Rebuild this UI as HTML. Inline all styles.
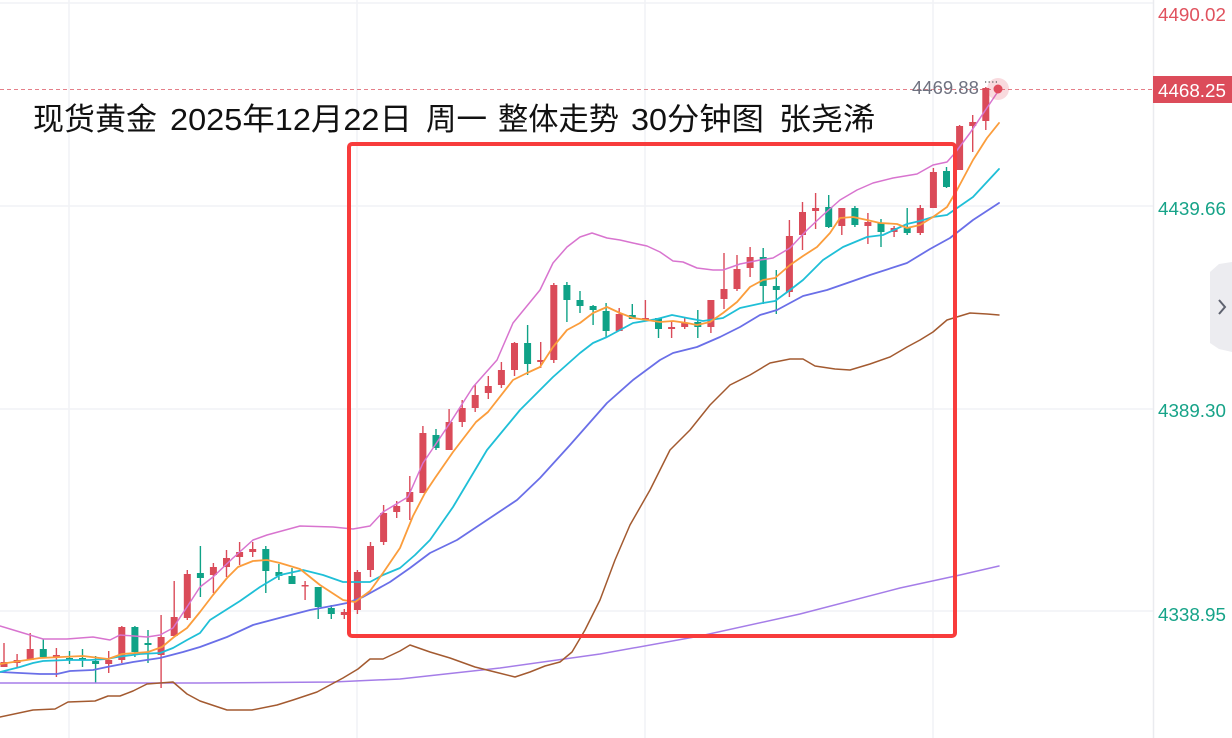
<!DOCTYPE html>
<html><head><meta charset="utf-8"><style>
html,body{margin:0;padding:0;background:#fff;}
svg{display:block;}
</style></head><body>
<svg width="1232" height="738" viewBox="0 0 1232 738" xmlns="http://www.w3.org/2000/svg">
<rect x="0" y="0" width="1232" height="738" fill="#fff"/>
<g stroke="#f1f2f5" stroke-width="1.5">
<path d="M69 0V738M357 0V738M645 0V738M933 0V738"/>
<path d="M0 3H1153M0 206H1153M0 409H1153M0 611H1153"/>
</g>
<path d="M1153.5 0V738" stroke="#eaebef" stroke-width="1.5"/>
<path d="M0 89.5H1153" stroke="#e57f89" stroke-width="1" stroke-dasharray="4 3"/>

<g stroke="#da4b59" stroke-width="1.4" fill="none">
<path d="M4 643V667M17.1 654V668M30.2 633V660M56.4 648V677M108.7 651V673M121.8 626V663M161.1 615V688M174.2 581V636M187.3 570V620M213.4 563V593M226.5 550V577M239.6 542V565M252.7 542V557M305.1 581V600M344.3 609V619M357.4 570V614M370.5 542V577M383.6 505V545M396.7 501V518M409.8 476V520M422.9 426V493M449.1 409V450M462.2 400V427M475.2 385V412M488.3 376V399M501.4 362V388M514.5 342V376M540.7 342V368M553.8 283V363M619.2 308V331M645.4 300V320M671.6 322V338M684.7 317V329M710.9 300V333M724 253V309M737 255V291M750.1 247V277M789.4 220V297M802.5 202V250M815.6 193V229M841.8 208V235M867.9 213V244M894.1 226V237M920.3 205V235M933.4 168V208M959.6 125V170M972.7 115V152M985.8 87V130"/>
</g>
<g fill="#da4b59">
<rect x="0.5" y="662" width="7" height="5"/>
<rect x="13.6" y="660" width="7" height="3"/>
<rect x="26.7" y="649" width="7" height="11"/>
<rect x="52.9" y="655" width="7" height="2"/>
<rect x="105.2" y="660" width="7" height="4"/>
<rect x="118.3" y="627" width="7" height="33"/>
<rect x="157.6" y="637" width="7" height="18"/>
<rect x="170.7" y="617" width="7" height="19"/>
<rect x="183.8" y="574" width="7" height="44"/>
<rect x="209.9" y="567" width="7" height="8"/>
<rect x="223" y="558" width="7" height="9"/>
<rect x="236.1" y="552" width="7" height="5"/>
<rect x="249.2" y="549" width="7" height="3"/>
<rect x="301.6" y="585" width="7" height="1.5"/>
<rect x="340.8" y="612" width="7" height="3"/>
<rect x="353.9" y="572" width="7" height="38"/>
<rect x="367" y="546" width="7" height="24"/>
<rect x="380.1" y="513" width="7" height="29"/>
<rect x="393.2" y="506" width="7" height="6"/>
<rect x="406.3" y="492" width="7" height="10"/>
<rect x="419.4" y="433" width="7" height="60"/>
<rect x="445.6" y="422" width="7" height="28"/>
<rect x="458.7" y="408" width="7" height="14"/>
<rect x="471.7" y="395" width="7" height="13"/>
<rect x="484.8" y="386" width="7" height="7"/>
<rect x="497.9" y="370" width="7" height="15"/>
<rect x="511" y="343" width="7" height="27"/>
<rect x="537.2" y="360" width="7" height="2"/>
<rect x="550.3" y="285" width="7" height="75"/>
<rect x="615.7" y="314" width="7" height="17"/>
<rect x="641.9" y="318" width="7" height="2"/>
<rect x="668.1" y="327" width="7" height="2"/>
<rect x="681.2" y="323" width="7" height="4"/>
<rect x="707.4" y="300" width="7" height="27"/>
<rect x="720.5" y="289" width="7" height="10"/>
<rect x="733.5" y="269" width="7" height="20"/>
<rect x="746.6" y="257" width="7" height="11"/>
<rect x="785.9" y="236" width="7" height="56"/>
<rect x="799" y="212" width="7" height="23"/>
<rect x="812.1" y="208" width="7" height="3"/>
<rect x="838.3" y="208" width="7" height="18"/>
<rect x="864.4" y="222" width="7" height="4"/>
<rect x="890.6" y="228" width="7" height="4"/>
<rect x="916.8" y="208" width="7" height="25"/>
<rect x="929.9" y="172" width="7" height="36"/>
<rect x="956.1" y="126" width="7" height="44"/>
<rect x="969.2" y="122" width="7" height="4"/>
<rect x="982.3" y="88" width="7" height="33"/>
</g>
<g stroke="#0fa287" stroke-width="1.4" fill="none">
<path d="M43.3 639V658M69.5 651V664M82.5 649V667M95.6 656V683M134.9 626V657M148 630V663M200.4 546V597M265.8 546V593M278.9 564V580M292 568V584M318.2 587V619M331.3 605V619M436 429V450M527.6 325V375M566.9 282V322M580 291V313M593.1 305V325M606.1 303V338M632.3 304V319M658.5 318V338M697.8 310V338M763.2 248V304M776.3 270V314M828.7 195V228M854.9 206V227M881 219V247M907.2 208V235M946.5 167V188"/>
</g>
<g fill="#0fa287">
<rect x="39.8" y="649" width="7" height="8"/>
<rect x="66" y="658" width="7" height="2"/>
<rect x="79" y="658" width="7" height="2"/>
<rect x="92.1" y="661" width="7" height="3"/>
<rect x="131.4" y="627" width="7" height="25"/>
<rect x="144.5" y="643" width="7" height="2"/>
<rect x="196.9" y="573" width="7" height="5"/>
<rect x="262.3" y="549" width="7" height="22"/>
<rect x="275.4" y="572" width="7" height="4"/>
<rect x="288.5" y="576" width="7" height="8"/>
<rect x="314.7" y="587" width="7" height="20"/>
<rect x="327.8" y="608" width="7" height="6"/>
<rect x="432.5" y="435" width="7" height="13"/>
<rect x="524.1" y="343" width="7" height="21"/>
<rect x="563.4" y="285" width="7" height="15"/>
<rect x="576.5" y="300" width="7" height="6"/>
<rect x="589.6" y="306" width="7" height="4"/>
<rect x="602.6" y="311" width="7" height="20"/>
<rect x="628.8" y="315" width="7" height="4"/>
<rect x="655" y="318" width="7" height="11"/>
<rect x="694.3" y="322" width="7" height="5"/>
<rect x="759.7" y="257" width="7" height="29"/>
<rect x="772.8" y="286" width="7" height="4"/>
<rect x="825.2" y="207" width="7" height="20"/>
<rect x="851.4" y="208" width="7" height="17"/>
<rect x="877.5" y="223" width="7" height="9"/>
<rect x="903.7" y="228" width="7" height="5"/>
<rect x="943" y="171" width="7" height="16"/>
</g>

<g fill="none" stroke-linejoin="round" stroke-linecap="round">
<polyline stroke="#a57de8" stroke-width="1.5" points="0,683 200,683 333,682 400,679 500,668 600,654 700,636 800,614 900,588 960,575 999,566"/>
<polyline stroke="#a35a30" stroke-width="1.5" points="0,717 33,710 55,709 68,702 95,701 108,696 120,696 133,691 147,684 160,683 173,682 187,694 200,701 227,710 252,710 277,705 293,700 317,692 343,678 358,669 370,659 383,659 400,651 410,645 430,652 450,658 475,667 495,672 515,677 530,672 545,666 560,662 572,652 585,630 600,600 615,560 630,525 650,490 670,450 690,430 710,405 730,385 750,375 770,363 790,359 803,359 815,366 835,369 850,370 870,364 890,357 907,347 920,340 933,332 947,320 970,313 987,314 999,315"/>
<polyline stroke="#6a6fe8" stroke-width="1.8" points="0,672 20,673 40,674 57,674 70,671 93,670 107,667 133,662 160,658 183,652 200,647 227,637 253,625 283,617 310,610 337,605 347,603 363,597 390,582 410,568 430,553 457,540 490,518 517,500 540,478 570,445 607,403 633,380 660,360 673,353 697,347 720,337 740,327 760,315 777,310 803,296 827,290 853,281 870,275 907,263 930,249 950,238 973,220 999,203"/>
<polyline stroke="#1fbfd7" stroke-width="1.8" points="0,672 20,667 33,663 43,661 67,660 90,660 107,659 117,657 140,654 160,653 173,648 187,640 200,633 210,620 240,601 260,587 280,575 303,570 323,575 343,582 357,582 370,582 383,575 400,568 415,555 430,540 453,507 487,450 520,410 553,377 580,353 593,343 607,337 633,323 657,319 672,315 687,318 703,321 723,318 740,308 763,303 775,301 790,290 803,280 823,260 843,247 867,237 883,235 907,224 920,221 933,217 947,215 973,197 999,169"/>
<polyline stroke="#d874cf" stroke-width="1.5" points="0,626 20,632 43,639 67,639 93,637 110,640 120,635 147,637 160,635 173,628 187,607 200,587 213,577 233,558 253,540 267,535 300,526 333,527 353,529 370,526 383,512 408,497 423,463 450,423 473,387 497,360 513,323 540,290 553,263 567,247 580,237 592,233 607,238 620,240 633,243 647,246 660,252 673,261 683,262 697,268 713,270 723,270 740,264 760,260 773,258 790,248 807,230 823,215 840,200 857,190 873,183 893,178 917,174 933,165 947,162 955,153 970,133 999,90"/>
<polyline stroke="#fb9d3c" stroke-width="1.8" points="0,664 40,658 83,656 108,659 122,654 148,652 162,647 174,637 187,628 200,612 213,595 227,578 238,567 253,561 267,560 280,563 300,569 320,585 343,600 355,602 370,591 383,573 400,548 413,516 425,493 435,478 453,452 476,422 488,412 513,380 527,373 540,367 553,347 567,330 580,323 593,313 607,307 620,313 633,318 647,320 660,322 673,321 687,323 697,325 710,322 723,313 737,302 750,287 763,280 775,278 790,265 803,256 817,247 830,233 840,218 853,217 867,220 880,223 897,224 907,228 920,225 933,217 947,207 957,190 973,160 987,138 999,123"/>
</g>

<circle cx="998" cy="89" r="11" fill="#e5586a" fill-opacity="0.22"/>
<circle cx="998" cy="89" r="4.5" fill="#e04c5c"/>
<text x="912" y="94" font-family="Liberation Sans, sans-serif" font-size="18.5" fill="#6f7280">4469.88</text>
<path d="M985 82H999" stroke="#555" stroke-width="1.2" stroke-dasharray="1.2 2.4"/>

<rect x="349" y="144" width="606" height="492" rx="3" ry="3" fill="none" stroke="#f83c3c" stroke-width="4"/>

<g font-family="Liberation Sans, Noto Sans CJK SC, sans-serif" font-size="31" fill="#111">
<text x="33" y="130" textLength="124" lengthAdjust="spacingAndGlyphs">现货黄金</text>
<text x="170" y="130" textLength="242" lengthAdjust="spacingAndGlyphs">2025年12月22日</text>
<text x="426" y="130" textLength="61" lengthAdjust="spacingAndGlyphs">周一</text>
<text x="498" y="130" textLength="121" lengthAdjust="spacingAndGlyphs">整体走势</text>
<text x="631" y="130" textLength="133" lengthAdjust="spacingAndGlyphs">30分钟图</text>
<text x="779" y="130" textLength="96" lengthAdjust="spacingAndGlyphs">张尧浠</text>
</g>

<g font-family="Liberation Sans, sans-serif" font-size="18.8">
<text x="1158" y="21" fill="#e0525e">4490.02</text>
<rect x="1153" y="76" width="79" height="27" fill="#dc4c5a"/>
<text x="1158" y="97" fill="#fff">4468.25</text>
<text x="1158" y="215" fill="#16a388">4439.66</text>
<text x="1158" y="417" fill="#16a388">4389.30</text>
<text x="1158" y="621" fill="#16a388">4338.95</text>
</g>

<polygon points="1232,262 1219,264 1210,272 1210,343 1219,349 1232,352" fill="#ececf0"/>
<path d="M1219 300L1225 307L1219 314" fill="none" stroke="#5f6370" stroke-width="2"/>
</svg>
</body></html>
